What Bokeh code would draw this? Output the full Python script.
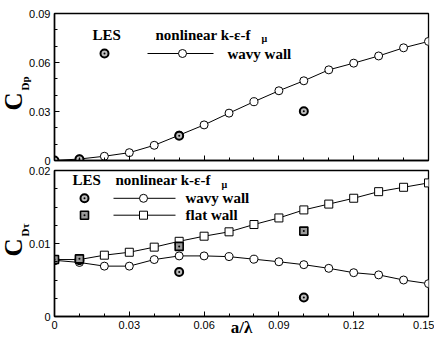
from bokeh.plotting import figure
from bokeh.layouts import column
from bokeh.models import Range1d, FixedTicker, Label, Title
from bokeh.embed import file_html
from bokeh.resources import INLINE

# a/lambda stations of the nonlinear k-eps-f_mu runs
x_model = [0.0, 0.01, 0.02, 0.03, 0.04, 0.05, 0.06, 0.07,
           0.08, 0.09, 0.10, 0.11, 0.12, 0.13, 0.14, 0.15]

# pressure drag, wavy wall
cdp_wavy = [0.0, 0.0009, 0.0026, 0.0048, 0.0093, 0.0155, 0.0218, 0.0290,
            0.0360, 0.0427, 0.0488, 0.0555, 0.0596, 0.0640, 0.0690, 0.0729]

# LES pressure drag
les_x = [0.0, 0.01, 0.05, 0.10]
les_cdp = [0.0, 0.0008, 0.0152, 0.0302]

# friction drag, wavy and flat wall
ctau_wavy = [0.0077, 0.0074, 0.0069, 0.0069, 0.0078, 0.0083, 0.0083, 0.0082,
             0.00785, 0.0075, 0.0071, 0.0066, 0.0060, 0.0057, 0.0050, 0.0045]
ctau_flat = [0.0078, 0.0078, 0.0084, 0.0088, 0.0095, 0.0103, 0.0110, 0.0116,
             0.0126, 0.0135, 0.0146, 0.0154, 0.0162, 0.0171, 0.0177, 0.0183]

# LES friction drag
les_ctau_wavy = [0.0077, 0.0077, 0.0061, 0.0026]
les_ctau_flat = [0.0078, 0.0079, 0.0096, 0.0117]

# tick labels
x_ticks = [0.0, 0.03, 0.06, 0.09, 0.12, 0.15]
x_tick_labels = ["0", "0.03", "0.06", "0.09", "0.12", "0.15"]
cdp_ticks = [0.0, 0.03, 0.06, 0.09]
cdp_tick_labels = ["0", "0.03", "0.06", "0.09"]
ctau_ticks = [0.0, 0.01, 0.02]
ctau_tick_labels = ["0", "0.01", "0.02"]

W = 434
FRAME_L, FRAME_R = 54, 428
TICK_FONT = "Liberation Sans"
SERIF = "Liberation Serif"


def make_fig(height, ymax, top, bottom):
    p = figure(width=W, height=height, x_range=Range1d(0, 0.15),
               y_range=Range1d(0, ymax), output_backend="svg",
               toolbar_location=None, min_border_left=FRAME_L,
               min_border_right=W - FRAME_R, min_border_top=top,
               min_border_bottom=bottom)
    p.grid.visible = False
    p.outline_line_color = "black"
    p.outline_line_width = 1.3
    p.background_fill_color = "white"
    p.border_fill_color = "white"
    for ax in (p.xaxis[0], p.yaxis[0]):
        ax.axis_line_width = 1.5
        ax.axis_line_color = "black"
        ax.major_tick_in = 5
        ax.major_tick_out = 0
        ax.minor_tick_in = 3
        ax.minor_tick_out = 0
        ax.major_tick_line_color = "black"
        ax.minor_tick_line_color = "black"
        ax.major_label_text_font = TICK_FONT
        ax.major_label_text_font_size = "11px"
        ax.major_label_text_color = "black"
        ax.major_label_standoff = 4
    return p


def px_mapper(height, top, bottom, ymax):
    """Convert pixels inside a figure to its data coordinates."""
    fb = height - bottom

    def fx(px):
        return (px - FRAME_L) / (FRAME_R - FRAME_L) * 0.15

    def fy(py):
        return (fb - py) / (fb - top) * ymax
    return fx, fy


def add_text(p, fx, fy, px, py, text, size, font=SERIF, style="bold",
             align="left"):
    p.add_layout(Label(x=fx(px), y=fy(py), text=text,
                       text_font=font, text_font_size=size,
                       text_font_style=style, text_align=align,
                       text_baseline="middle", text_color="black"))


def side_title(p, text, size, offset, standoff):
    p.add_layout(Title(text=text, text_font=SERIF, text_font_size=size,
                       text_font_style="bold", align="left", offset=offset,
                       standoff=standoff, text_color="black"), "left")


def model_circles(p, xs, ys):
    p.line(xs, ys, line_color="black", line_width=1)
    p.scatter(xs, ys, marker="circle", size=8, fill_color="white",
              line_color="black", line_width=1)


def model_squares(p, xs, ys):
    p.line(xs, ys, line_color="black", line_width=1)
    p.scatter(xs, ys, marker="square", size=8, fill_color="white",
              line_color="black", line_width=1)


def les_circles(p, xs, ys):
    p.scatter(xs, ys, marker="circle_dot", size=8, fill_color="#bdbdbd",
              line_color="black", line_width=2)


def les_squares(p, xs, ys):
    p.scatter(xs, ys, marker="square_dot", size=8, fill_color="#9a9a9a",
              line_color="black", line_width=1.6)


# ---------------- upper panel: C_Dp ----------------
H1, T1, B1 = 165, 13, 5
p1 = make_fig(H1, 0.09, T1, B1)
fx1, fy1 = px_mapper(H1, T1, B1, 0.09)
p1.yaxis.ticker = FixedTicker(ticks=cdp_ticks,
                              minor_ticks=[i * 0.01 for i in range(10)])
p1.yaxis.major_label_overrides = dict(zip(cdp_ticks, cdp_tick_labels))
p1.xaxis.ticker = FixedTicker(ticks=x_ticks,
                              minor_ticks=[i * 0.01 for i in range(16)])
p1.xaxis.major_label_overrides = {t: "" for t in x_ticks}
p1.xaxis.major_label_standoff = 0

model_circles(p1, x_model, cdp_wavy)
les_circles(p1, les_x, les_cdp)

# legend block
add_text(p1, fx1, fy1, 92, 34, "LES", "15px")
add_text(p1, fx1, fy1, 155, 34, "nonlinear k-\u03b5-f", "15px")
add_text(p1, fx1, fy1, 261, 38, "\u03bc", "10px")
les_circles(p1, [fx1(104)], [fy1(53)])
p1.line([fx1(147), fx1(213)], [fy1(53)] * 2, line_color="black")
p1.scatter([fx1(182)], [fy1(53)], marker="circle", size=8,
           fill_color="white", line_color="black")
add_text(p1, fx1, fy1, 227, 53, "wavy wall", "15px")

# axis title C_Dp: subscript next to the tick labels, C outside it
side_title(p1, "Dp", "11px", 70, -8)
side_title(p1, "C", "25px", 50, -13)

# ---------------- lower panel: C_Dtau ----------------
H2, T2, B2 = 174, 5, 22
p2 = make_fig(H2, 0.02, T2, B2)
fx2, fy2 = px_mapper(H2, T2, B2, 0.02)
p2.yaxis.ticker = FixedTicker(ticks=ctau_ticks,
                              minor_ticks=[i * 0.0025 for i in range(9)])
p2.yaxis.major_label_overrides = dict(zip(ctau_ticks, ctau_tick_labels))
p2.xaxis.ticker = FixedTicker(ticks=x_ticks,
                              minor_ticks=[i * 0.01 for i in range(16)])
p2.xaxis.major_label_overrides = dict(zip(x_ticks, x_tick_labels))
p2.xaxis.axis_label = "a/\u03bb"
p2.xaxis.axis_label_text_font = SERIF
p2.xaxis.axis_label_text_font_size = "17px"
p2.xaxis.axis_label_text_font_style = "bold"
p2.xaxis.axis_label_text_color = "black"
p2.xaxis.axis_label_standoff = -14

model_squares(p2, x_model, ctau_flat)
model_circles(p2, x_model, ctau_wavy)
les_circles(p2, les_x, les_ctau_wavy)
les_squares(p2, les_x, les_ctau_flat)

# legend block (window y minus the upper figure height)
o = H1
add_text(p2, fx2, fy2, 72, 180 - o, "LES", "15px")
add_text(p2, fx2, fy2, 115, 180 - o, "nonlinear k-\u03b5-f", "15px")
add_text(p2, fx2, fy2, 221, 184 - o, "\u03bc", "10px")
les_circles(p2, [fx2(84)], [fy2(198 - o)])
p2.line([fx2(113), fx2(175)], [fy2(198 - o)] * 2, line_color="black")
p2.scatter([fx2(143)], [fy2(198 - o)], marker="circle", size=8,
           fill_color="white", line_color="black")
add_text(p2, fx2, fy2, 185, 198 - o, "wavy wall", "15px")
les_squares(p2, [fx2(84)], [fy2(215 - o)])
p2.line([fx2(113), fx2(175)], [fy2(215 - o)] * 2, line_color="black")
p2.scatter([fx2(143)], [fy2(215 - o)], marker="square", size=8,
           fill_color="white", line_color="black")
add_text(p2, fx2, fy2, 185, 215 - o, "flat wall", "15px")

# axis title C_Dtau
side_title(p2, "D\u03c4", "11px", 80, -8)
side_title(p2, "C", "25px", 60, -13)

layout = column(p1, p2, spacing=0)
open("out.html", "w").write(file_html(layout, INLINE))
